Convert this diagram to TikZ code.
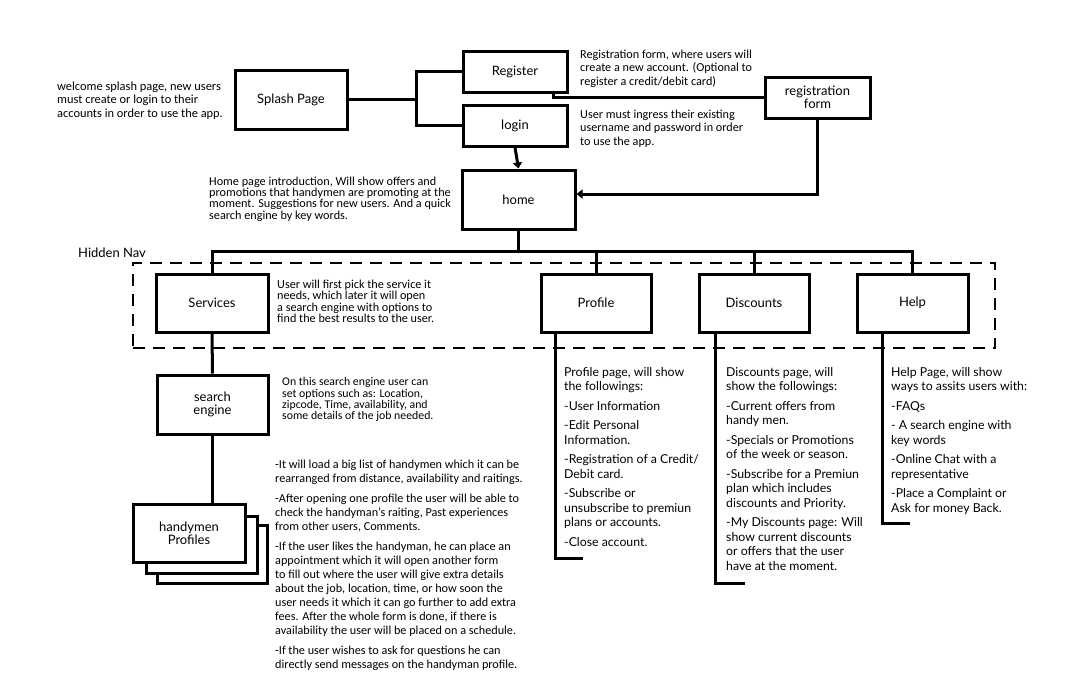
\documentclass[tikz,border=0pt]{standalone}
\usepackage{fontspec}
\setmainfont{Carlito}
\newfontfamily\lato{Lato}
\usetikzlibrary{arrows.meta}
\begin{document}
\begin{tikzpicture}[x=1pt,y=-1pt,
  box/.style={draw, line width=3pt, fill=white, inner sep=0pt, align=center, font=\lato\fontsize{13}{15}\selectfont},
  conn/.style={line width=3pt},
  arr/.style={conn, -{Triangle[length=6pt,width=9pt]}},
  note/.style={inner sep=0pt, anchor=north west, align=left},
  navbox/.style={draw, line width=2.5pt, dash pattern=on 12pt off 8pt, inner sep=0pt},
  list/.style={note, font=\lato\fontsize{12.3}{14.5}\selectfont}]
\useasboundingbox (0,0) rectangle (1068,697);
% hidden nav frame
\node[navbox, minimum width=862, minimum height=85] (nav) at (564,305.5) {};
\node[inner sep=0pt, anchor=base west, font=\lato\fontsize{13}{15}\selectfont] (navlabel) at (78,257) {Hidden Nav};
% boxes
\node[box, minimum width=112, minimum height=59] (splash) at (291,99.5) {Splash Page};
\node[box, minimum width=104, minimum height=41] (register) at (515,71.5) {Register};
\node[box, minimum width=104, minimum height=41] (login) at (515,125.5) {login};
\node[box, minimum width=105, minimum height=41] (regform) at (817.5,97.5) {registration\\[-2pt]form};
\node[box, minimum width=113, minimum height=59] (home) at (518.5,199.5) {home};
\node[box, minimum width=112, minimum height=58] (services) at (212,303) {Services};
\node[box, minimum width=110, minimum height=58] (profile) at (596,303) {Profile};
\node[box, minimum width=110, minimum height=58] (discounts) at (754,303) {Discounts};
\node[box, minimum width=111, minimum height=58] (help) at (912.5,303) {Help};
\node[box, minimum width=111, minimum height=59] (search) at (212.5,404.5) {search\\[-2pt]engine};
\node[box, minimum width=110, minimum height=58] (hp3) at (212,554) {};
\node[box, minimum width=111, minimum height=57] (hp2) at (201.5,544.5) {};
\node[box, minimum width=112, minimum height=58] (hp) at (189,533) {handymen\\[-2pt]Profiles};
% junctions
\coordinate (J) at (416,99.5);
\coordinate (bus) at (518.5,251);
\coordinate (pend) at (583,558);
\coordinate (dend) at (745,583);
\coordinate (hend) at (910,523);
% connectors
\draw[conn] (splash.east) -- (J);
\draw[conn] (register.west) -| (J) |- (login.west);
\draw[arr] (login.south) -- (home.north);
\draw[conn] ([xshift=38pt]register.south) |- (regform.west);
\draw[arr] (regform.south) |- ([yshift=5.5pt]home.east);
\draw[conn] (home.south) -- (bus);
\draw[conn] (services.north) |- (help.north |- bus) -- (help.north);
\draw[conn] (profile.north) -- (profile.north |- bus);
\draw[conn] (discounts.north) -- (discounts.north |- bus);
\draw[conn] (services.south) -- (search.north);
\draw[conn] (search.south) -- (search.south |- hp.north);
\draw[conn] ([xshift=-41pt]profile.south) |- (pend);
\draw[conn] ([xshift=-39pt]discounts.south) |- (dend);
\draw[conn] ([xshift=-30.5pt]help.south) |- (hend);
% notes
\node[note, font=\fontsize{12.4}{13.5}\selectfont] (twelcome) at (57,81.3)
  {welcome splash page, new users\\must create or login to their\\accounts in order to use the app.};
\node[note, font=\fontsize{12.2}{13.3}\selectfont] (treg) at (580,50)
  {Registration form, where users will\\create a new account. (Optional to\\register a credit/debit card)};
\node[note, font=\fontsize{12.2}{13.3}\selectfont] (tlogin) at (580,110)
  {User must ingress their existing\\username and password in order\\to use the app.};
\node[note, font=\fontsize{12.2}{11.3}\selectfont] (thome) at (209,176.5)
  {Home page introduction, Will show offers and\\promotions that handymen are promoting at the\\moment. Suggestions for new users. And a quick\\search engine by key words.};
\node[note, font=\fontsize{12.2}{9.8}\selectfont] (tservices) at (277,279.5)
  {User will first pick the service it\\needs, which later it will open\\a search engine with options to\\find the best results to the user.};
\node[note, font=\fontsize{11.8}{11.3}\selectfont] (tsearch) at (282,377.5)
  {On this search engine user can\\set options such as: Location,\\zipcode, Time, availability, and\\some details of the job needed.};
\node[note, font=\fontsize{12.2}{14}\selectfont] (tprofiles) at (275,459.5)
  {-It will load a big list of handymen which it can be\\rearranged from distance, availability and raitings.\\[6pt]
   -After opening one profile the user will be able to\\check the handyman's raiting, Past experiences\\from other users, Comments.\\[6pt]
   -If the user likes the handyman, he can place an\\appointment which it will open another form\\to fill out where the user will give extra details\\about the job, location, time, or how soon the\\user needs it which it can go further to add extra\\fees. After the whole form is done, if there is\\availability the user will be placed on a schedule.\\[6pt]
   -If the user wishes to ask for questions he can\\directly send messages on the handyman profile.};
\node[list] (tprofile) at (564,367)
  {Profile page, will show\\the followings:\\[5pt]-User Information\\[5pt]-Edit Personal\\Information.\\[5pt]-Registration of a Credit/\\Debit card.\\[5pt]-Subscribe or\\unsubscribe to premiun\\plans or accounts.\\[5pt]-Close account.};
\node[list] (tdiscounts) at (726,367)
  {Discounts page, will\\show the followings:\\[5pt]-Current offers from\\handy men.\\[5pt]-Specials or Promotions\\of the week or season.\\[5pt]-Subscribe for a Premiun\\plan which includes\\discounts and Priority.\\[5pt]-My Discounts page: Will\\show current discounts\\or offers that the user\\have at the moment.};
\node[list] (thelp) at (891,367)
  {Help Page, will show\\ways to assits users with:\\[5pt]-FAQs\\[5pt]- A search engine with\\key words\\[5pt]-Online Chat with a\\representative\\[5pt]-Place a Complaint or\\Ask for money Back.};
\end{tikzpicture}
\end{document}
